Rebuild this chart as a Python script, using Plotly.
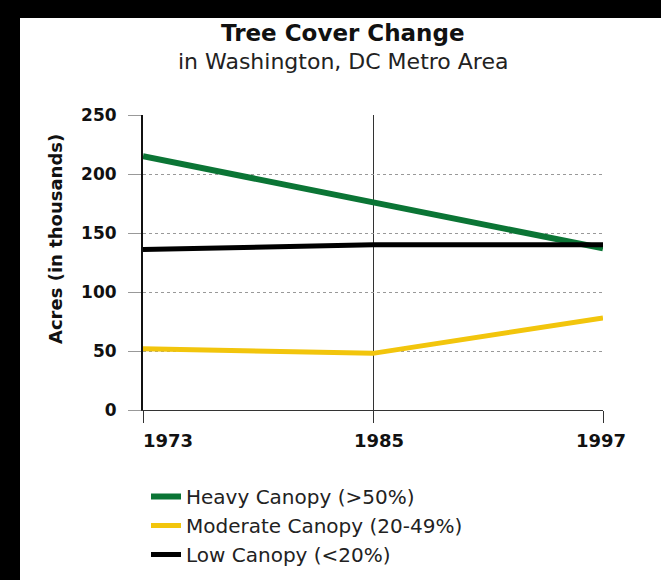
import plotly.graph_objects as go

years = [1973, 1985, 1997]
heavy = [215, 176, 137]
moderate = [52, 48, 78]
low = [136, 140, 140]
series_names = ["Heavy Canopy (>50%)", "Moderate Canopy (20-49%)", "Low Canopy (<20%)"]
series_colors = ["#0b7535", "#f2c50c", "#000000"]
series_widths = [6, 5, 5]
y_ticks = [0, 50, 100, 150, 200, 250]
x_tick_labels = ["1973", "1985", "1997"]

W, H = 661, 580
L, R, T, B = 143, 603, 115, 410
pw, ph = R - L, B - T


def px(x):
    return (x - L) / pw


def py(y):
    return (B - y) / ph


fig = go.Figure()
for name, vals, col, w in zip(series_names, [heavy, moderate, low], series_colors, series_widths):
    fig.add_trace(go.Scatter(x=years, y=vals, mode="lines", name=name,
                             line=dict(color=col, width=w)))

fig.update_layout(
    width=W, height=H,
    margin=dict(l=L, r=W - R, t=T, b=H - B, autoexpand=False),
    paper_bgcolor="white", plot_bgcolor="white",
    showlegend=True,
    legend=dict(x=146 / W, y=1 - 477 / H, xref="container", yref="container",
                xanchor="left", yanchor="top",
                font=dict(family="DejaVu Sans", size=20, color="#222"),
                bgcolor="rgba(0,0,0,0)", itemwidth=30, tracegroupgap=0),
    xaxis=dict(range=[1973, 1997], tickvals=years, showticklabels=False,
               showgrid=True, gridcolor="#333", gridwidth=1,
               ticks="outside", ticklen=12, tickcolor="#333", tickwidth=1,
               showline=True, linecolor="#333", linewidth=1, zeroline=False),
    yaxis=dict(range=[0, 250], tickvals=y_ticks, showgrid=True, griddash="dot",
               gridcolor="#999", gridwidth=1, ticks="outside", ticklen=13,
               tickcolor="#999", showline=True, linecolor="#111", linewidth=2,
               zeroline=False, ticklabelstandoff=8,
               tickfont=dict(family="DejaVu Sans", size=17, color="#111", weight="bold")),
)

# black page border bands (top and left)
fig.add_shape(type="rect", xref="paper", yref="paper", x0=px(0), x1=px(20), y0=py(H), y1=py(0),
              fillcolor="black", line_width=0, layer="below")
fig.add_shape(type="rect", xref="paper", yref="paper", x0=px(0), x1=px(W), y0=py(18), y1=py(0),
              fillcolor="black", line_width=0, layer="below")

fig.add_annotation(text="<b>Tree Cover Change</b>", xref="paper", yref="paper",
                   x=px(343), y=py(33), showarrow=False, xanchor="center", yanchor="middle",
                   font=dict(family="DejaVu Sans", size=23, color="#111"))
fig.add_annotation(text="in Washington, DC Metro Area", xref="paper", yref="paper",
                   x=px(343), y=py(62), showarrow=False, xanchor="center", yanchor="middle",
                   font=dict(family="DejaVu Sans", size=22, color="#222"))
fig.add_annotation(text="<b>Acres (in thousands)</b>", xref="paper", yref="paper",
                   x=px(55), y=py(239), showarrow=False, textangle=-90,
                   xanchor="center", yanchor="middle",
                   font=dict(family="DejaVu Sans", size=18, color="#111"))

anchors = ["left", "center", "center"]
shifts = [-2, 6, -2]
for yr, lab, anc, sh in zip(years, x_tick_labels, anchors, shifts):
    fig.add_annotation(text="<b>" + lab + "</b>", xref="x", yref="paper", x=yr, y=py(441),
                       showarrow=False, xanchor=anc, yanchor="middle", xshift=sh,
                       font=dict(family="DejaVu Sans", size=18, color="#111"))

fig.write_html("out.html")
